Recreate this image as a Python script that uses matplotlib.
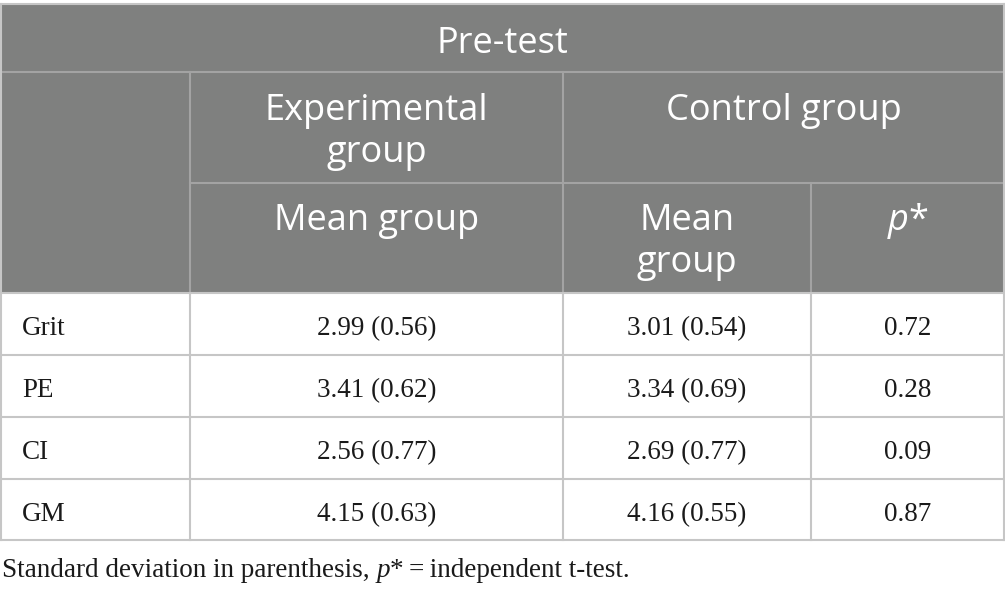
import matplotlib
matplotlib.use("Agg")
import matplotlib.pyplot as plt
from matplotlib.patches import Rectangle

W, H = 1005, 593

title = "Pre-test"
group_heads = [["Experimental", "group"], ["Control group"]]
sub_heads = [["Mean group"], ["Mean", "group"]]
rows = ["Grit", "PE", "CI", "GM"]
exp_vals = ["2.99 (0.56)", "3.41 (0.62)", "2.56 (0.77)", "4.15 (0.63)"]
ctrl_vals = ["3.01 (0.54)", "3.34 (0.69)", "2.69 (0.77)", "4.16 (0.55)"]
p_vals = ["0.72", "0.28", "0.09", "0.87"]

# column edges and row edges (pixels)
cx = [1, 190, 563, 811, 1004]
hy = [4, 72, 183, 293]
by = [293, 355, 417, 479, 540]

hdr_bg = "#7f807f"
hdr_line = "#a3a3a3"
grid = "#c6c6c6"
ink = "#1a1a1a"
sans = "Open Sans"
serif = "Liberation Serif"

fig = plt.figure(figsize=(W / 100, H / 100), dpi=100)
ax = fig.add_axes([0, 0, 1, 1])
ax.set_xlim(0, W)
ax.set_ylim(H, 0)
ax.axis('off')

ax.add_patch(Rectangle((cx[0], hy[0]), cx[-1] - cx[0], hy[-1] - hy[0], color=hdr_bg, lw=0))

# header lines
ax.plot([cx[0], cx[-1]], [hy[1], hy[1]], color=hdr_line, lw=1.5)
ax.plot([cx[1], cx[-1]], [hy[2], hy[2]], color=hdr_line, lw=1.5)
ax.plot([cx[1], cx[1]], [hy[1], hy[3]], color=hdr_line, lw=1.5)
ax.plot([cx[2], cx[2]], [hy[1], hy[3]], color=hdr_line, lw=1.5)
ax.plot([cx[3], cx[3]], [hy[2], hy[3]], color=hdr_line, lw=1.5)

# outer border
ax.plot([cx[0], cx[-1]], [hy[0], hy[0]], color=grid, lw=1.5)
ax.plot([cx[0], cx[0]], [hy[0], by[-1]], color=grid, lw=1.5)
ax.plot([cx[-1], cx[-1]], [hy[0], by[-1]], color=grid, lw=1.5)

# body grid
for y in by:
    ax.plot([cx[0], cx[-1]], [y, y], color=grid, lw=1.5)
for x in cx[1:-1]:
    ax.plot([x, x], [by[0], by[-1]], color=grid, lw=1.5)


def head(xc, y0, lines, gap=42):
    for k, s in enumerate(lines):
        ax.text(xc, y0 + k * gap, s, color='white', fontsize=hs, family=sans,
                ha='center', va='baseline')


hs = 26
head(W / 2, 53, [title])
head((cx[1] + cx[2]) / 2, 120, group_heads[0])
head((cx[2] + cx[-1]) / 2, 120, group_heads[1])
head((cx[1] + cx[2]) / 2, 230, sub_heads[0])
head((cx[2] + cx[3]) / 2, 230, sub_heads[1])
pc = (cx[3] + cx[4]) / 2
ax.text(pc + 1, 230, "p", color='white', fontsize=hs, family=sans,
        style='italic', ha='right', va='baseline')
ax.text(pc + 1, 230, "*", color='white', fontsize=hs, family=sans,
        ha='left', va='baseline')

bs = 19.5
for i, name in enumerate(rows):
    yb = by[i] + 42
    ax.text(cx[0] + 21, yb, name, fontsize=bs, family=serif, ha='left', va='baseline', color=ink)
    ax.text((cx[1] + cx[2]) / 2, yb, exp_vals[i], fontsize=bs, family=serif,
            ha='center', va='baseline', color=ink)
    ax.text((cx[2] + cx[3]) / 2, yb, ctrl_vals[i], fontsize=bs, family=serif,
            ha='center', va='baseline', color=ink)
    ax.text((cx[3] + cx[4]) / 2, yb, p_vals[i], fontsize=bs, family=serif,
            ha='center', va='baseline', color=ink)

# footnote, drawn in runs so p can be italic
fig.canvas.draw()
r = fig.canvas.get_renderer()
runs = [("Standard deviation in parenthesis, ", 'normal'), ("p", 'italic'),
        ("*\u2009=\u2009independent t-test.", 'normal')]
x = cx[0] + 1
for s, st in runs:
    t = ax.text(x, 577, s, fontsize=bs, family=serif, style=st, ha='left',
                va='baseline', color=ink)
    bb = t.get_window_extent(r)
    x += bb.width

fig.savefig("out.png", dpi=100)
